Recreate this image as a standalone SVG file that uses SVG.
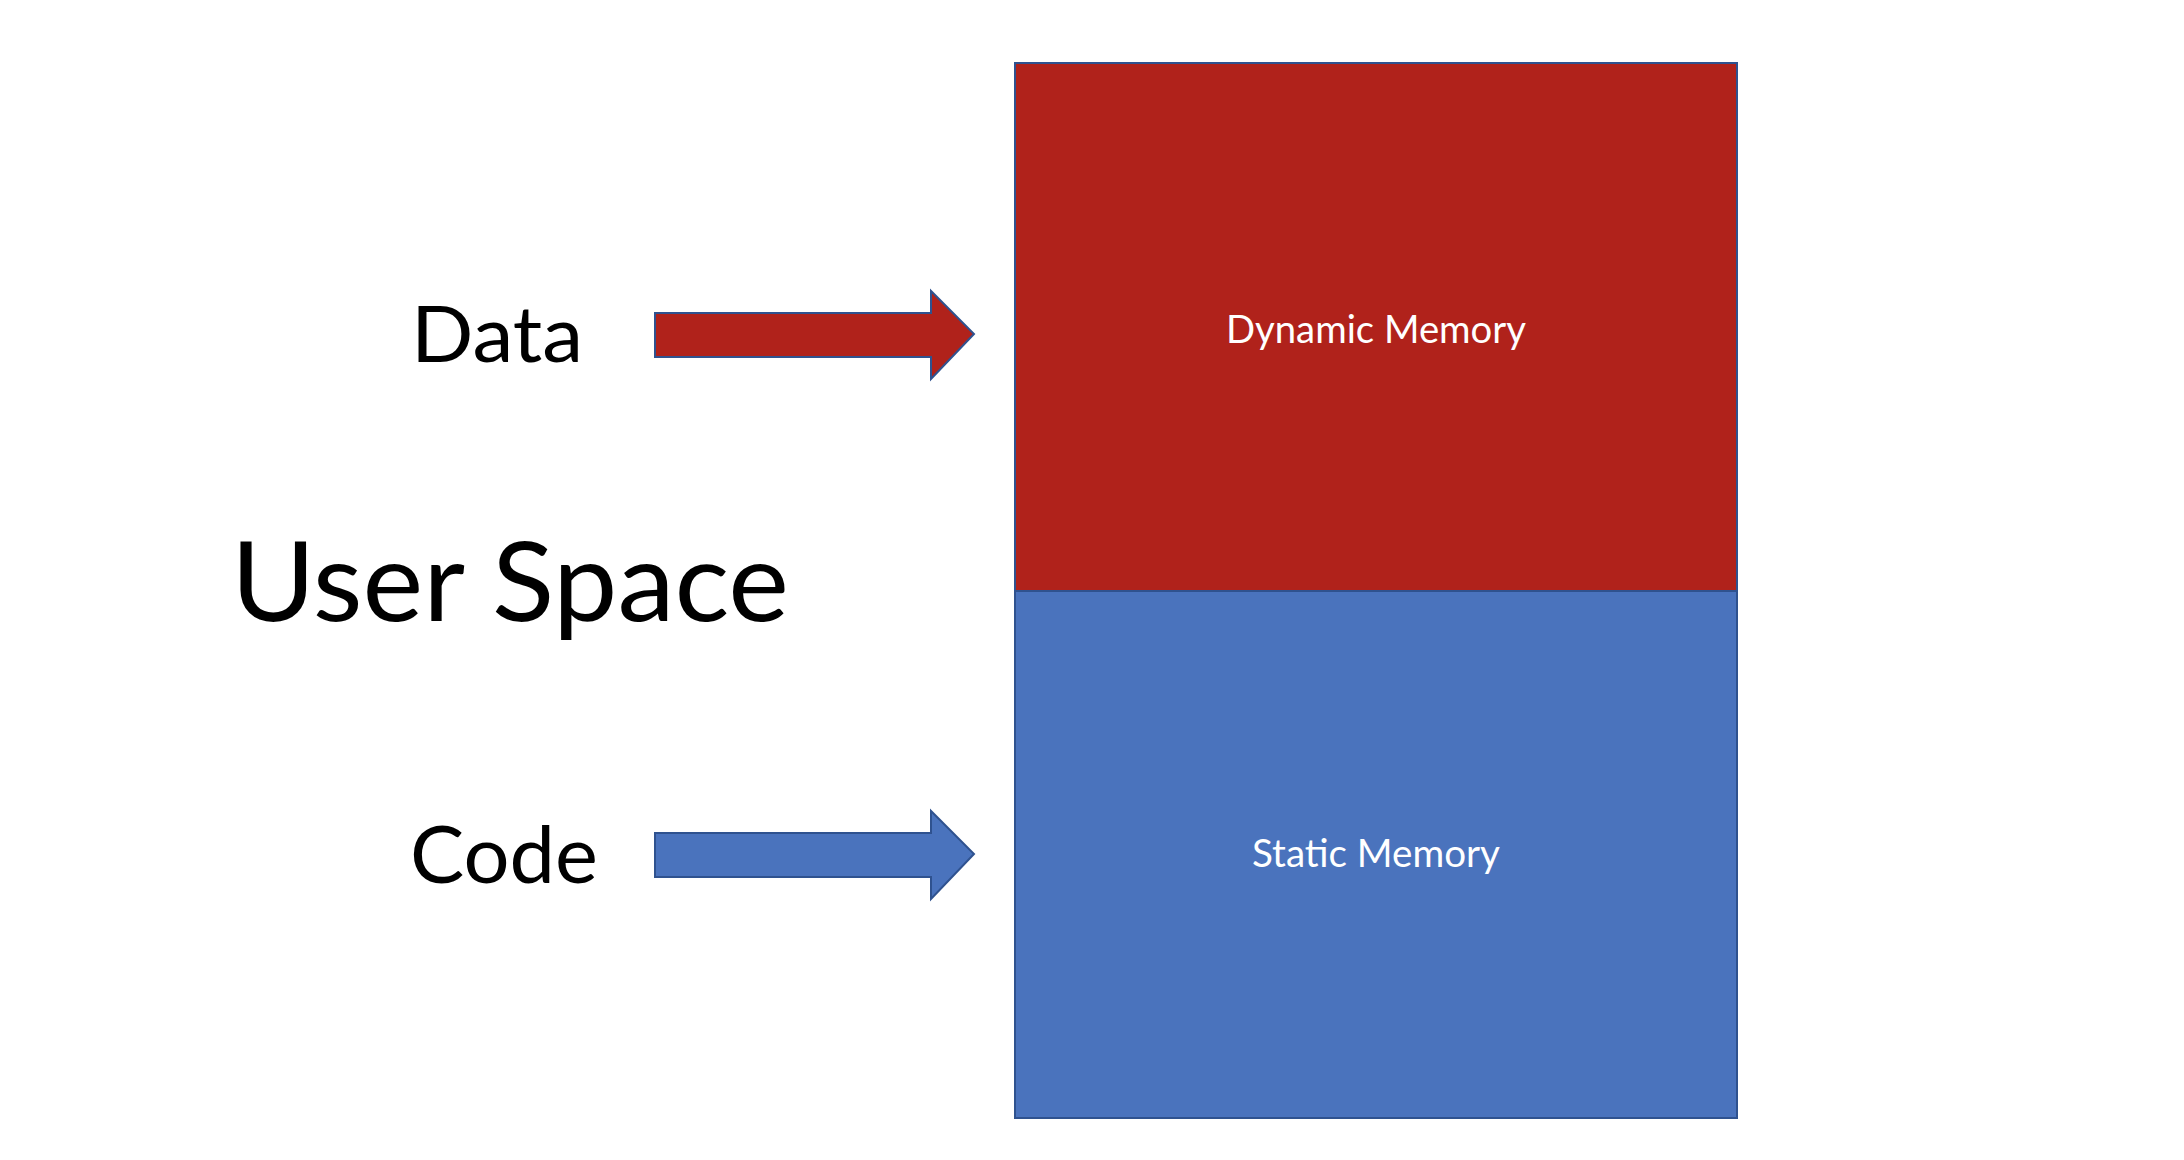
<svg xmlns="http://www.w3.org/2000/svg" width="2184" height="1160" viewBox="0 0 2184 1160">
<style>
.lbl{font-family:Lato,"Open Sans","Liberation Sans",sans-serif;fill:#000}
.in{font-family:Lato,"Open Sans","Liberation Sans",sans-serif;fill:#fff}
.box{stroke:#2F528F;stroke-width:2}
.red{fill:#B0221B}
.blue{fill:#4A73BD}
</style>
<rect width="2184" height="1160" fill="#fff"/>
<g id="dynamic-memory">
<rect class="box red" x="1015" y="63" width="722" height="528"/>
<text class="in" x="1376" y="343" font-size="39" text-anchor="middle" textLength="300" lengthAdjust="spacingAndGlyphs">Dynamic Memory</text>
</g>
<g id="static-memory">
<rect class="box blue" x="1015" y="591" width="722" height="527"/>
<text class="in" x="1376" y="867" font-size="39" text-anchor="middle" textLength="248" lengthAdjust="spacingAndGlyphs">Static Memory</text>
</g>
<g id="user-space">
<text class="lbl" x="231" y="621" font-size="111" textLength="558" lengthAdjust="spacingAndGlyphs">User Space</text>
</g>
<g id="data">
<text class="lbl" x="411" y="362" font-size="78" textLength="172" lengthAdjust="spacingAndGlyphs">Data</text>
</g>
<g id="code">
<text class="lbl" x="410" y="883" font-size="80" textLength="188" lengthAdjust="spacingAndGlyphs">Code</text>
</g>
<g id="connectors">
<polygon class="box red" points="655,313 931,313 931,291 974,334 931,379 931,357 655,357"/>
<polygon class="box blue" points="655,833 931,833 931,811 974,854 931,899 931,877 655,877"/>
</g>
</svg>
